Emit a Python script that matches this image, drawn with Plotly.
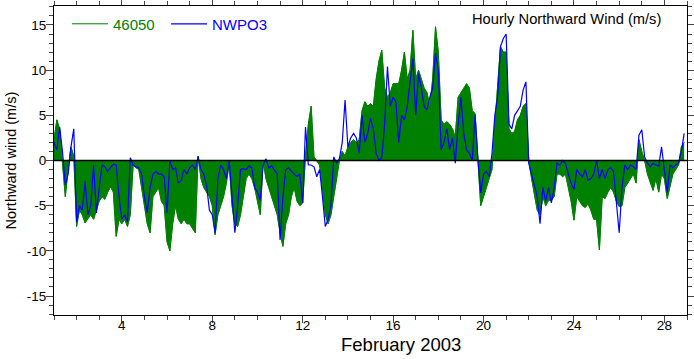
import numpy as np
import plotly.graph_objects as go

# 3-hourly readings (00,03,...,21 UTC) for each day of February 2003
buoy_46050 = [
    2.3, 4.5, 3.5, 0, -4, -1, 1.5, 0.5,          # 1
    -7.3, -5.5, -6, -6.9, -6.5, -6, -6.5, -5.5,   # 2
    -4.5, -4, -4.3, -3.5, -2.9, -3.5, -8.4, -6.5, # 3
    -7, -6.5, -7.3, -6, -0.5, -0.8, -1, -3,       # 4
    -5, -7, -8, -4, -3.5, -3, -4.5, -5,           # 5
    -9, -10, -7, -5, -6.5, -7, -6.5, -7,          # 6
    -7, -7.5, -8, 0.5, -2, -3, -3.5, -4,          # 7
    -5, -8.2, -6, -5, -4, -2.5, -0.3, -5,         # 8
    -7, -7.3, -6, -4, -2, -1.5, -2, -3,           # 9
    -4.5, -6, 0, -2, -3, -4, -5, -6,              # 10
    -8, -9.5, -7, -6, -4, -3, -4.5, -5,           # 11
    -4.7, 0.5, 4, 6, 0.4, 0, -0.5, -3,            # 12
    -6, -7, -6, -4, -2, 0, 1, 0.5,                # 13
    1.5, 2, 2.3, 2, 2.3, 5.5, 6.5, 6,             # 14
    6.3, 6, 9, 11, 12.2, 8, 7, 7.5,               # 15
    8.5, 8.5, 8.5, 10, 12, 9, 10, 14.4,           # 16
    9, 10, 9, 8, 7.5, 6, 9, 14.8,                 # 17
    12, 4.5, 4, 4.3, 4, 3.5, 2.6, 7,              # 18
    7.5, 8, 8.5, 8, 5.5, 5.2, 0, -5,              # 19
    -4, -3, -2, -1, 4, 8.2, 12.6, 12,             # 20
    12, 3.5, 3, 3.2, 4.5, 5, 6, 6.3,              # 21
    0, -2, -3.6, -5.5, -6, -4, -5, -4.4,          # 22
    -4.4, -4, -1.5, -1.5, -1.8, -1.5, -3, -4.5,   # 23
    -6.6, -4, -4.5, -5, -5.2, -4.8, -5.5, -6.5,   # 24
    -6.5, -9.9, -4, -4.2, -3.5, -3, -3.5, -4.5,   # 25
    -5.1, -5, -3, -2.5, -2, -1.5, -2.5, 2.3,      # 26
    1, 0, -1.5, -2.5, -3.3, -2, -3.5, -1.5,       # 27
    -2, -4.2, -3, -1.5, -1, -0.5, 1.5, 2,         # 28
]

station_nwpo3 = [
    2, 1.2, 3.7, 1.0, -2.7, -1.5, 1.5, 3.5,       # 1
    -6.8, -5, -5.5, -2.3, -6, -5, -0.5, -5.8,     # 2
    -3, -0.5, -0.7, -1.2, -0.8, -0.4, -0.5, -4,   # 3
    -6.5, -6, -6.8, 0.3, -0.5, -0.7, -0.8, -1.5,  # 4
    -4, -5.8, -3, -1.5, -1.2, -1.5, -1.5, -1.8,   # 5
    -5.8, 0, -1, -0.8, -2.5, -2.2, -1, -1.5,      # 6
    -0.8, -0.5, -1, 0.4, -1, -1.5, -2.8, -5.5,    # 7
    -6, -8, -2, -0.5, -1, -2, 0, -4,              # 8
    -8, -5, -1, -0.9, -1, -0.6, -0.8, -3,         # 9
    -3.5, -4.4, -0.5, 0.2, -0.8, -0.6, -1, -1.5,  # 10
    -8.8, -4, -1, -0.8, -1.2, -1.5, -1.8, -1.5,   # 11
    -4.7, 3.7, -0.5, -0.5, -0.7, -1.8, -1, -4,    # 12
    -7.3, -6.5, -5, 0.4, -0.3, 0.2, 2, 6.7,       # 13
    1.5, 2.5, 3, 2.5, 0.8, 5, 2, 3,               # 14
    4.7, 3.5, 0.8, 0, 0.3, 4, 10.4, 6,            # 15
    7, 6.5, 2, 5, 4.5, 6, 8.5, 11.3,              # 16
    5, 9.6, 8, 6, 5.6, 7, 8, 11.9,                # 17
    10, 1.2, 2, 3.5, 1.2, 2.5, -0.3, 4,           # 18
    7, 3, 1.2, 0.8, 0, 5, 0.3, -3.6,              # 19
    -1.5, -1.2, -1.8, 0.8, 5, 7, 12.6, 13.5,      # 20
    14, 4, 3.5, 5, 5.5, 6, 7.8, 8.7,              # 21
    -0.3, -1.5, -2.9, -4, -7, -3, -4.5, -3,       # 22
    -4.7, -3, -0.3, -0.5, 0, -0.3, -1.5, -2.5,    # 23
    -3.2, -1, -1.5, -1.8, -1, -2.2, -2, -1.5,     # 24
    0, -2, -1, -2, -1, -0.8, -1.2, -4.5,          # 25
    -8, -3, -0.5, -1, -0.5, -0.7, -1, 2.8,        # 26
    3.4, 0.4, -0.3, -0.7, -0.3, -0.5, -0.6, 1.5,  # 27
    -1, -3.6, -0.5, -0.8, -0.5, -0.3, 1, 3,       # 28
]

hours = np.arange(len(buoy_46050)) * 3          # hours since Feb 1 00:00
day_of_month = 1 + hours / 24.0

x_ticks = [4, 8, 12, 16, 20, 24, 28]
y_ticks = [-15, -10, -5, 0, 5, 10, 15]

GREEN = "#008000"
BLUE = "#0000FF"
FONT = "Liberation Sans, Arial, Helvetica, sans-serif"

fig = go.Figure()
# filled area of buoy 46050 (no legend entry)
fig.add_trace(go.Scatter(
    x=day_of_month, y=buoy_46050, mode="lines", showlegend=False,
    line=dict(color=GREEN, width=0.8), fill="tozeroy", fillcolor=GREEN,
    hoverinfo="skip",
))
# outline of buoy 46050 (legend entry as a line)
fig.add_trace(go.Scatter(
    x=day_of_month, y=buoy_46050, mode="lines",
    name='<span style="color:#008000">46050</span>',
    line=dict(color=GREEN, width=1), legend="legend",
))
fig.add_trace(go.Scatter(
    x=day_of_month, y=station_nwpo3, mode="lines",
    name='<span style="color:#0000FF">NWPO3</span>',
    line=dict(color=BLUE, width=1.2), legend="legend2",
))

fig.add_hline(y=0, line=dict(color="black", width=1.3), layer="above")

axis_common = dict(
    showline=True, linecolor="black", linewidth=1, mirror="allticks",
    ticks="outside", ticklen=7, tickwidth=1, tickcolor="#444444",
    showgrid=False, zeroline=False, automargin=False,
    tickfont=dict(family=FONT, size=13.5, color="black"),
)
fig.update_xaxes(
    range=[1, 29], tickmode="array", tickvals=x_ticks,
    ticktext=[str(t) for t in x_ticks], ticklabelstandoff=-9,
    minor=dict(dtick=1, tick0=1, ticks="outside", ticklen=4, tickcolor="#444444", showgrid=False),
    **axis_common,
)
fig.update_yaxes(
    range=[-17.1, 17.1], tickmode="array", tickvals=y_ticks,
    ticktext=[str(t) for t in y_ticks], ticklabelstandoff=-3,
    minor=dict(dtick=1, tick0=0, ticks="outside", ticklen=4, tickcolor="#444444", showgrid=False),
    **axis_common,
)

legend_style = dict(
    orientation="h", y=0.995, xanchor="left", yanchor="top",
    bgcolor="rgba(0,0,0,0)", font=dict(size=15, family=FONT), itemwidth=36,
)

fig.update_layout(
    width=694, height=359,
    margin=dict(l=54, r=7, t=6, b=44, pad=0),
    plot_bgcolor="white", paper_bgcolor="white",
    font=dict(family=FONT, size=14, color="black"),
    showlegend=True,
    legend=dict(x=0.0205, **legend_style),
    legend2=dict(x=0.177, **legend_style),
    annotations=[
        dict(text="Hourly Northward Wind (m/s)", xref="paper", yref="paper",
             x=1, y=1, xanchor="right", yanchor="top", xshift=-24, yshift=-3,
             showarrow=False, font=dict(family=FONT, size=14.7, color="black")),
        dict(text="February 2003", xref="paper", yref="paper",
             x=0.5, y=0, xanchor="center", yanchor="top", xshift=30, yshift=-17,
             showarrow=False, font=dict(family=FONT, size=18.5, color="black")),
        dict(text="Northward wind (m/s)", xref="paper", yref="paper",
             x=0, y=0.5, xanchor="center", yanchor="middle", xshift=-44,
             textangle=-90, showarrow=False,
             font=dict(family=FONT, size=14.5, color="black")),
    ],
)

fig.write_html(
    "out.html",
    config={"displayModeBar": False},
    post_script="document.body.style.margin='0px';document.body.style.overflow='hidden';",
)
